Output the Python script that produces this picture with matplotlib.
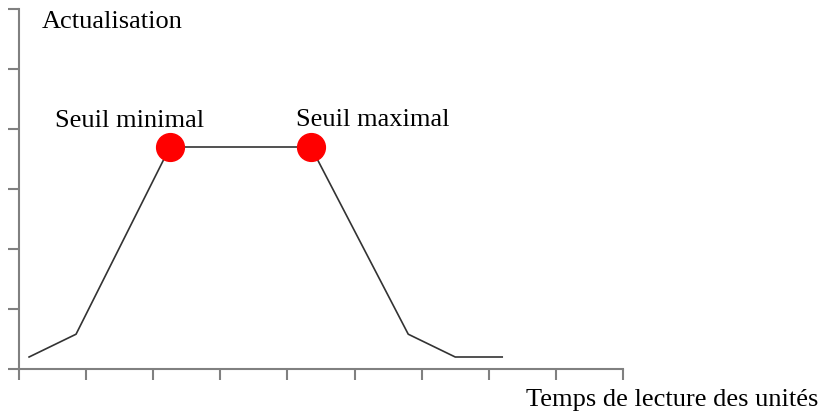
#----------------------------------------------------------------------------------------------------
# Make imports
#----------------------------------------------------------------------------------------------------
import matplotlib.pyplot as plt

#----------------------------------------------------------------------------------------------------
# Data
#----------------------------------------------------------------------------------------------------
x_values = [0.15, 0.85, 2.25, 4.35, 5.8, 6.5, 7.2]
y_values = [0.2, 0.58, 3.7, 3.7, 0.58, 0.2, 0.2]

seuil_x = [2.25, 4.35]
seuil_y = [3.7, 3.7]
seuil_labels = ["Seuil minimal", "Seuil maximal"]

x_ticks = list(range(0, 10))
y_ticks = list(range(0, 7))

#----------------------------------------------------------------------------------------------------
# Plot
#----------------------------------------------------------------------------------------------------
plt.rcParams["font.family"] = ["Liberation Serif", "DejaVu Serif"]

fig = plt.figure(figsize=(8.22, 4.14), dpi=100)
ax = fig.add_axes([19 / 822, 44 / 414, 604 / 822, 360 / 414])

ax.plot(x_values, y_values, color="#333333", linewidth=1.2, zorder=2)
ax.plot(seuil_x, seuil_y, linestyle="none", marker="o", markersize=20,
        color="#ff0000", zorder=3)

ax.text(0.54, 4.15, seuil_labels[0], fontsize=19, ha="left", va="center")
ax.text(4.13, 4.17, seuil_labels[1], fontsize=19, ha="left", va="center")

ax.text(0.34, 5.8, "Actualisation", fontsize=19, ha="left", va="center")
fig.text(818 / 822, 14 / 414, "Temps de lecture des unités", fontsize=19,
         ha="right", va="center")

ax.set_xlim(0, 9)
ax.set_ylim(0, 6)
ax.set_xticks(x_ticks)
ax.set_yticks(y_ticks)
ax.set_xticklabels([])
ax.set_yticklabels([])

for side in ["top", "right"]:
    ax.spines[side].set_visible(False)
for side in ["left", "bottom"]:
    ax.spines[side].set_color("#808080")
    ax.spines[side].set_linewidth(1.5)
ax.tick_params(direction="out", length=8, width=1.5, color="#808080")

fig.savefig("out.png", dpi=100)
